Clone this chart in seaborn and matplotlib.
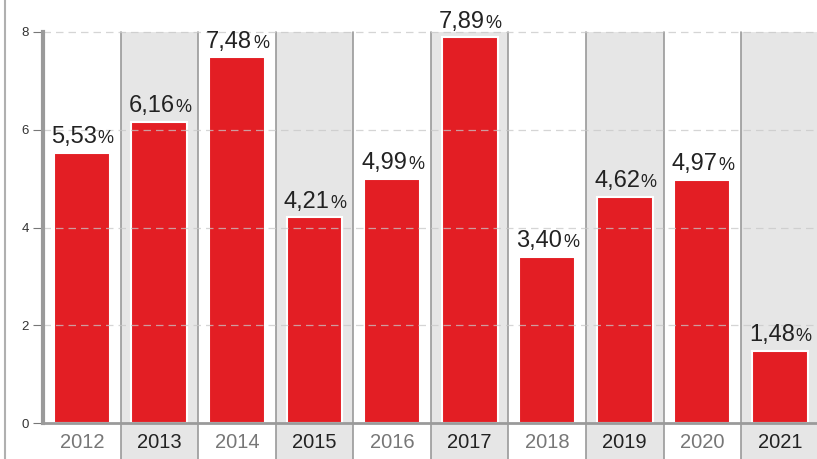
import matplotlib
matplotlib.use("Agg")
import matplotlib.pyplot as plt
import matplotlib.transforms as mtrans
from matplotlib.patches import Rectangle
from matplotlib.lines import Line2D
import seaborn as sns
import pandas as pd

# ======================================
# Datos
# ======================================

anios = ["2012", "2013", "2014", "2015", "2016", "2017", "2018", "2019", "2020", "2021"]
valores = [5.53, 6.16, 7.48, 4.21, 4.99, 7.89, 3.40, 4.62, 4.97, 1.48]
etiquetas = ["5,53", "6,16", "7,48", "4,21", "4,99", "7,89", "3,40", "4,62", "4,97", "1,48"]
ticks_y = [0, 2, 4, 6, 8]

df = pd.DataFrame({"anio": anios, "valor": valores})

# ======================================
# Estilo
# ======================================

sns.set_style("white")
plt.rcParams["font.family"] = ["Liberation Sans", "DejaVu Sans"]

rojo = "#e31e24"
gris_col = "#e6e6e6"
gris_linea = "#9a9a9a"

fig = plt.figure(figsize=(8.17, 4.59), dpi=100)
ax = fig.add_axes([43 / 817, 1 - 423 / 459, 1 - 43 / 817 + 0.002, (423 - 32) / 459])

# columnas sombreadas (incluida la celda de la etiqueta)
trans = mtrans.blended_transform_factory(ax.transData, ax.transAxes)
for i in range(len(anios)):
    if i % 2 == 1:
        ax.add_patch(Rectangle((i - 0.5, -0.095), 1, 1.095, transform=trans,
                               facecolor=gris_col, edgecolor="none", zorder=0, clip_on=False))
for i in range(1, len(anios) + 1):
    ax.add_line(Line2D([i - 0.5, i - 0.5], [-0.095, 1], transform=trans,
                       color=gris_linea, lw=1.2, zorder=1, clip_on=False))

sns.barplot(data=df, x="anio", y="valor", color=rojo, saturation=1, width=0.72,
            edgecolor="white", linewidth=1.5, ax=ax, zorder=2)

# cuadrícula discontinua por encima de las barras
for t in ticks_y[1:]:
    ax.axhline(t, color="#c8c8c8", lw=0.9, ls=(0, (6, 4)), zorder=3, alpha=0.75, clip_on=False)

# etiquetas de valor (número grande, % más pequeño)
for i, (v, et) in enumerate(zip(valores, etiquetas)):
    ax.annotate(et, (i, v), xytext=(11, 7), textcoords="offset points",
                ha="right", va="baseline", fontsize=17, color="#222222", zorder=5,
                annotation_clip=False)
    ax.annotate("%", (i, v), xytext=(11.5, 7), textcoords="offset points",
                ha="left", va="baseline", fontsize=13, color="#222222", zorder=5,
                annotation_clip=False)

ax.set_xlim(-0.5, len(anios) - 0.5)
ax.set_ylim(0, 8)
ax.set_yticks(ticks_y)
ax.set_xlabel("")
ax.set_ylabel("")

ax.tick_params(axis="y", which="both", left=True, length=7, width=0.8, color="#777777",
               labelsize=9.5, labelcolor="#333333", pad=3)
ax.tick_params(axis="x", bottom=False, labelsize=14.5, pad=4)
for i, lab in enumerate(ax.get_xticklabels()):
    lab.set_color("#777777" if i % 2 == 0 else "#222222")

for s in ["top", "right"]:
    ax.spines[s].set_visible(False)
ax.spines["left"].set_color(gris_linea)
ax.spines["left"].set_linewidth(3)
ax.spines["left"].set_zorder(4)
ax.spines["bottom"].set_color(gris_linea)
ax.spines["bottom"].set_linewidth(2)
ax.spines["bottom"].set_zorder(4)

# marco exterior
fig.add_artist(Line2D([5 / 817, 5 / 817], [0, 1], transform=fig.transFigure,
                      color="#b0b0b0", lw=1.5))

fig.savefig("out.png", dpi=100)
plt.close(fig)
